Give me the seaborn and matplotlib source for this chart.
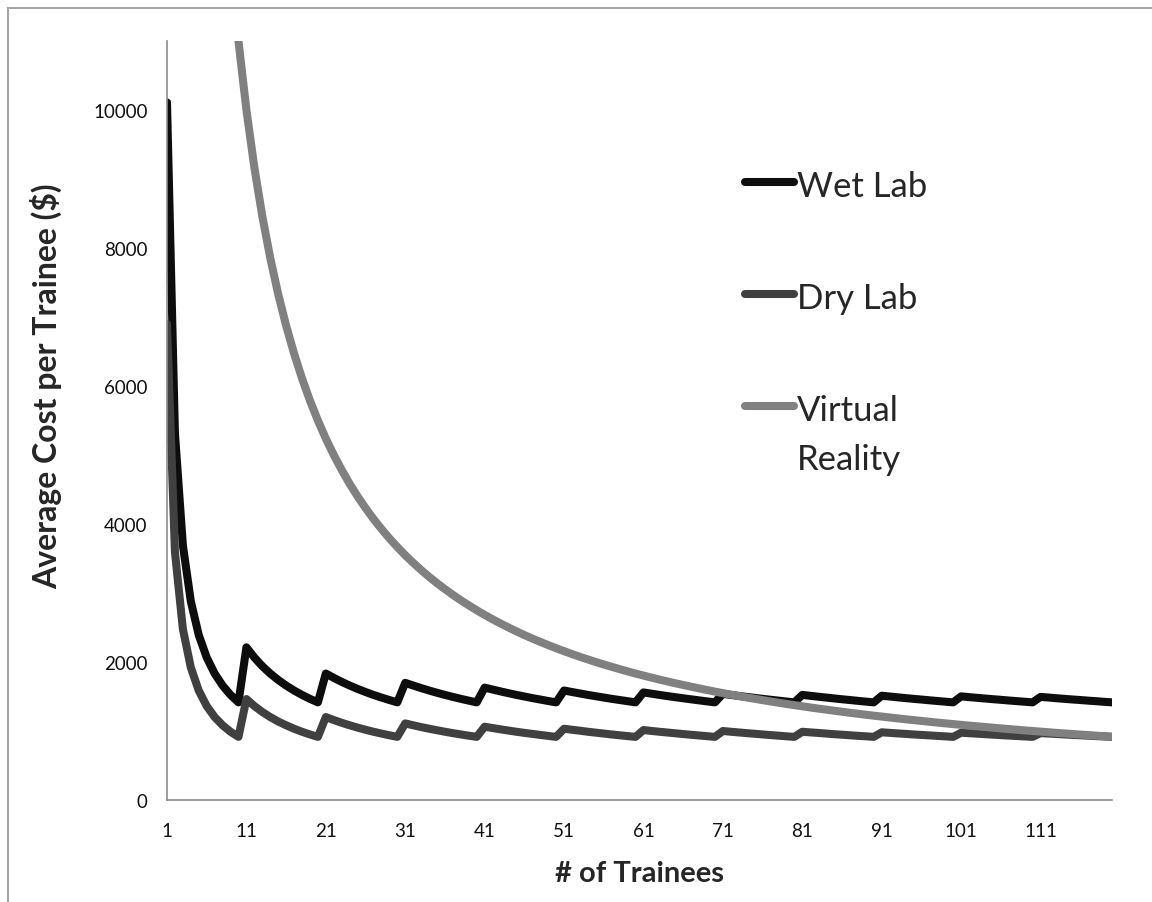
import matplotlib
matplotlib.use("Agg")
import matplotlib.pyplot as plt
from matplotlib.patches import Rectangle
from matplotlib.offsetbox import HPacker
import seaborn as sns
import pandas as pd
import numpy as np

# ---- data ----
trainees = list(range(1, 121))

wet_lab = [
    10110, 5315, 3690, 2880, 2390, 2065, 1833, 1659, 1523, 1415,
    2213, 2065, 1940, 1833, 1740, 1659, 1587, 1523, 1466, 1415,
    1833, 1770, 1712, 1659, 1610, 1565, 1523, 1485, 1449, 1415,
    1698, 1659, 1622, 1587, 1554, 1523, 1494, 1466, 1440, 1415,
    1629, 1601, 1574, 1548, 1523, 1500, 1477, 1456, 1435, 1415,
    1587, 1565, 1544, 1523, 1504, 1485, 1466, 1449, 1432, 1415,
    1559, 1541, 1523, 1506, 1490, 1474, 1459, 1444, 1429, 1415,
    1539, 1523, 1508, 1494, 1480, 1466, 1453, 1440, 1427, 1415,
    1523, 1510, 1497, 1485, 1472, 1460, 1449, 1437, 1426, 1415,
    1511, 1500, 1488, 1477, 1466, 1456, 1445, 1435, 1425, 1415,
    1502, 1491, 1481, 1471, 1461, 1452, 1442, 1433, 1424, 1415,
    1494, 1485, 1475, 1466, 1457, 1449, 1440, 1432, 1423, 1415,
]

dry_lab = [
    6900, 3595, 2478, 1920, 1585, 1362, 1202, 1083, 989, 915,
    1463, 1362, 1276, 1202, 1138, 1083, 1033, 989, 950, 915,
    1202, 1159, 1119, 1083, 1049, 1018, 989, 963, 938, 915,
    1110, 1083, 1057, 1033, 1011, 989, 969, 950, 932, 915,
    1062, 1043, 1024, 1006, 989, 973, 958, 943, 929, 915,
    1033, 1018, 1004, 989, 976, 963, 950, 938, 926, 915,
    1014, 1001, 989, 978, 967, 956, 945, 935, 925, 915,
    1000, 989, 979, 969, 960, 950, 941, 932, 923, 915,
    989, 980, 972, 963, 954, 946, 938, 930, 923, 915,
    981, 973, 965, 958, 950, 943, 936, 929, 922, 915,
    975, 968, 961, 954, 947, 940, 934, 927, 921, 915,
    969, 963, 957, 950, 944, 938, 932, 926, 921, 915,
]

virtual_reality = [
    110000, 55000, 36667, 27500, 22000, 18333, 15714, 13750, 12222, 11000,
    10000, 9167, 8462, 7857, 7333, 6875, 6471, 6111, 5789, 5500,
    5238, 5000, 4783, 4583, 4400, 4231, 4074, 3929, 3793, 3667,
    3548, 3438, 3333, 3235, 3143, 3056, 2973, 2895, 2821, 2750,
    2683, 2619, 2558, 2500, 2444, 2391, 2340, 2292, 2245, 2200,
    2157, 2115, 2075, 2037, 2000, 1964, 1930, 1897, 1864, 1833,
    1803, 1774, 1746, 1719, 1692, 1667, 1642, 1618, 1594, 1571,
    1549, 1528, 1507, 1486, 1467, 1447, 1429, 1410, 1392, 1375,
    1358, 1341, 1325, 1310, 1294, 1279, 1264, 1250, 1236, 1222,
    1209, 1196, 1183, 1170, 1158, 1146, 1134, 1122, 1111, 1100,
    1089, 1078, 1068, 1058, 1048, 1038, 1028, 1019, 1009, 1000,
    991, 982, 973, 965, 957, 948, 940, 932, 924, 917,
]

series_names = ["Wet Lab", "Dry Lab", "Virtual\nReality"]
series_colors = ["#0d0d0d", "#404040", "#808080"]
x_tick_values = [1, 11, 21, 31, 41, 51, 61, 71, 81, 91, 101, 111]
y_tick_values = [0, 2000, 4000, 6000, 8000, 10000]

# ---- build long-form table ----
df = pd.concat([
    pd.DataFrame({"n": trainees, "cost": vals, "series": name})
    for name, vals in zip(series_names, [wet_lab, dry_lab, virtual_reality])
], ignore_index=True)

sns.set_style("white")
plt.rcParams["font.family"] = ["Lato", "DejaVu Sans"]

fig = plt.figure(figsize=(11.52, 9.03), dpi=100)
ax = fig.add_axes([167 / 1152, 1 - 801 / 903, (1112 - 167) / 1152, (801 - 42) / 903])

sns.lineplot(data=df, x="n", y="cost", hue="series", hue_order=series_names,
             palette=series_colors, linewidth=5.8, legend=False, ax=ax,
             solid_joinstyle="round", solid_capstyle="round")

ax.set_xlim(1, 120)
ax.set_ylim(0, 11000)
ax.set_xticks(x_tick_values + [120])
ax.set_xticklabels([str(v) for v in x_tick_values] + [""])
ax.set_yticks(y_tick_values)
ax.set_yticklabels([str(v) for v in y_tick_values])

for side in ["top", "right"]:
    ax.spines[side].set_visible(False)
for side in ["left", "bottom"]:
    ax.spines[side].set_color("#8c8c8c")
    ax.spines[side].set_linewidth(1.2)

ax.tick_params(axis="both", which="major", direction="out", length=6,
               width=1.2, color="#8c8c8c", labelsize=13.5, labelcolor="#111111")
ax.tick_params(axis="y", pad=8)
ax.tick_params(axis="x", pad=10)

ax.set_xlabel("# of Trainees", fontsize=21, fontweight="bold", labelpad=15)
ax.set_ylabel("Average Cost per Trainee ($)", fontsize=23, fontweight="bold")
ax.yaxis.set_label_coords(-0.111, 0.547)

handles = ax.get_lines()[:3]
leg = ax.legend(handles, series_names, loc="upper left",
                bbox_to_anchor=(0.612, 0.83), frameon=False,
                fontsize=25, handlelength=1.4, handletextpad=0.08,
                labelspacing=2.3, borderpad=0, borderaxespad=0)
for t in leg.get_texts():
    t.set_linespacing(1.65)

# align each legend handle with the first line of its label
def _set_align(box):
    for child in box.get_children():
        if isinstance(child, HPacker):
            child.align = "top"
        elif hasattr(child, "get_children"):
            _set_align(child)

try:
    _set_align(leg._legend_handle_box)
except Exception:
    pass

# figure border
fig.patches.append(Rectangle((8 / 1152, -0.1), 1.2, 1.1 - 9 / 903,
                             transform=fig.transFigure, fill=False,
                             edgecolor="#a6a6a6", linewidth=1.5))

fig.savefig("out.png", dpi=100, facecolor="white")
